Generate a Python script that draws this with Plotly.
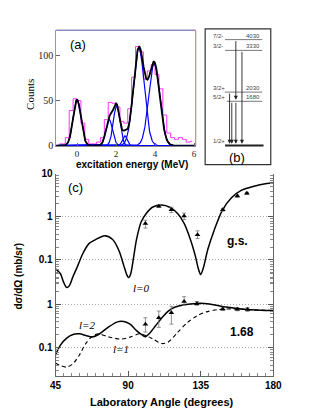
import numpy as np
import plotly.graph_objects as go

# page body has an 8px default margin: draw the figure 8px smaller and offset coordinates
OFF = 8
W, H = 314 - OFF, 419 - OFF
def fx(px): return (px - OFF) / W
def fy(py): return 1 - (py - OFF) / H

# ---------------- Panel (a): excitation energy spectrum ----------------
bin_centers = [-0.9, -0.7, -0.5, -0.3, -0.1, 0.1, 0.3, 0.5, 0.7, 0.9,
               1.1, 1.3, 1.5, 1.7, 1.9, 2.1, 2.3, 2.5, 2.7, 2.9,
               3.1, 3.3, 3.5, 3.7, 3.9, 4.1, 4.3, 4.5, 4.7, 4.9,
               5.1, 5.3, 5.5, 5.7, 5.9]
hist_counts = [2, 2, 9, 39, 52, 50, 25, 7, 2, 2,
               4, 9, 29, 48, 47, 43, 27, 25, 41, 76,
               110, 104, 74, 83, 90, 79, 63, 34, 14, 9,
               7, 9, 7, 4, 5]
peak_centroids = [0.0, 1.65, 2.03, 2.45, 3.17, 3.96]
peak_amplitudes = [51, 29, 44, 11, 108, 91]
peak_sigmas = [0.2, 0.17, 0.17, 0.12, 0.28, 0.28]

# ---------------- Panel (b): level scheme ----------------
level_spins = ["1/2+", "5/2+", "3/2+", "3/2-", "7/2-"]
level_energies = ["", "1680", "2030", "3330", "4030"]
level_plot_pos = [0, 1680, 2030, 3620, 4030]
# transitions: (from level index, to level index)
transitions = [(2, 0), (1, 0), (4, 1), (1, 0), (3, 0)]

# ---------------- Panel (c): angular distributions ----------------
gs_angle = [45, 48, 49.9, 51.9, 53.5, 55.8, 58.8, 61.7, 65.7, 70, 75.5, 80.4, 84.4,
            87.3, 89.3, 90.3, 91.6, 93.2, 95.2, 98.1, 101.1, 105, 110.9, 115.8,
            120.8, 124.7, 128.6, 131.6, 133.5, 134.9, 136.5, 139.4, 143.4, 148.3,
            154.2, 160.1, 168, 175.9, 180]
gs_xsec = [0.062, 0.048, 0.031, 0.0229, 0.025, 0.041, 0.074, 0.136, 0.24, 0.30, 0.366,
           0.30, 0.162, 0.074, 0.044, 0.039, 0.048, 0.104, 0.30, 0.77, 1.19, 1.68,
           1.9, 1.68, 1.19, 0.71, 0.30, 0.126, 0.063, 0.046, 0.063, 0.177, 0.50,
           1.41, 2.82, 4.13, 5.18, 5.95, 6.17]
gs_data_angle = [100.7, 109, 116.8, 124.7, 133, 148.7, 157.7, 163.6]
gs_data_xsec = [0.70, 1.77, 1.46, 1.05, 0.385, 1.46, 3.07, 3.54]
gs_data_errp = [0.14, 0.1, 0.22, 0.18, 0.09, 0.1, 0.2, 0.2]
gs_data_errm = [0.15, 0.1, 0.2, 0.18, 0.07, 0.1, 0.2, 0.2]

l2_angle = [45, 48, 51.9, 55.8, 59.8, 63.7, 67.6, 71.6, 77.5, 83.4, 87.3, 91.2, 95.2,
            99.1, 100.7, 103, 107, 110.9, 114.9, 118.8, 124.7, 132.6, 140.4, 148.3,
            160.1, 172, 180]
l2_xsec = [0.0685, 0.115, 0.167, 0.202, 0.209, 0.192, 0.176, 0.202, 0.295, 0.395, 0.40,
           0.35, 0.248, 0.192, 0.18, 0.21, 0.32, 0.49, 0.70, 0.855, 0.98, 1.05, 1.02,
           0.885, 0.785, 0.73, 0.72]
l1_angle = [45, 48, 51.9, 55.8, 59.8, 63.7, 67.6, 71.6, 77.5, 85.4, 91.2, 97.1, 101,
            105, 110.9, 114.9, 120.8, 126.7, 132.6, 138.5, 146.3, 156.2, 168, 180]
l1_xsec = [0.0447, 0.039, 0.036, 0.043, 0.0685, 0.125, 0.182, 0.21, 0.18, 0.158, 0.176,
           0.21, 0.19, 0.162, 0.125, 0.136, 0.228, 0.38, 0.54, 0.67, 0.76, 0.785,
           0.746, 0.72]
ex_data_angle = [100.7, 109, 116.8, 124.7, 132.6, 148.7, 157.7, 164]
ex_data_xsec = [0.35, 0.49, 0.64, 1.16, 1.03, 0.785, 0.77, 0.76]
ex_data_errp = [0.14, 0.21, 0.26, 0.34, 0.13, 0.07, 0.07, 0.08]
ex_data_errm = [0.12, 0.195, 0.29, 0.21, 0.08, 0.065, 0.06, 0.07]

SANS = "Liberation Sans"
SERIF = "Liberation Serif"

fig = go.Figure()

# ---- panel (a) traces
fig.add_trace(go.Scatter(x=bin_centers, y=hist_counts, mode="lines",
                         line=dict(color="#ff33ff", width=1, shape="hvh"),
                         xaxis="x", yaxis="y", showlegend=False, hoverinfo="skip"))
egrid = np.linspace(-1.07, 6.08, 500)
total = np.zeros_like(egrid)
for c, a, s in zip(peak_centroids, peak_amplitudes, peak_sigmas):
    g = a * np.exp(-0.5 * ((egrid - c) / s) ** 2)
    total += g
    fig.add_trace(go.Scatter(x=egrid, y=g, mode="lines",
                             line=dict(color="#0000ff", width=1.2),
                             xaxis="x", yaxis="y", showlegend=False, hoverinfo="skip"))
fig.add_trace(go.Scatter(x=egrid, y=total, mode="lines",
                         line=dict(color="black", width=1.8),
                         xaxis="x", yaxis="y", showlegend=False, hoverinfo="skip"))

# ---- panel (b) level scheme
bx0, bx1 = 0.304, 0.87
for i, (sp, en, pos) in enumerate(zip(level_spins, level_energies, level_plot_pos)):
    x0 = 0.33 if i in (1, 2) else bx0
    fig.add_trace(go.Scatter(x=[x0 - (0.03 if i == 2 else 0), bx1 + (0.02 if i == 0 else 0)],
                             y=[pos, pos], mode="lines",
                             line=dict(color="#222" if i == 0 else "#555", width=2 if i == 0 else 0.8),
                             xaxis="x2", yaxis="y2", showlegend=False, hoverinfo="skip"))
trans_x = [0.372, 0.406, 0.468, 0.468, 0.561]

# ---- panel (c) traces
fig.add_trace(go.Scatter(x=gs_angle, y=gs_xsec, mode="lines",
                         line=dict(color="black", width=1.5, shape="spline", smoothing=0.8),
                         xaxis="x3", yaxis="y3", showlegend=False))
fig.add_trace(go.Scatter(x=gs_data_angle, y=gs_data_xsec, mode="markers",
                         marker=dict(symbol="triangle-up", size=5, color="black"),
                         error_y=dict(type="data", array=gs_data_errp, arrayminus=gs_data_errm,
                                      color="#777", thickness=0.8, width=2),
                         xaxis="x3", yaxis="y3", showlegend=False))
fig.add_trace(go.Scatter(x=l1_angle, y=l1_xsec, mode="lines",
                         line=dict(color="black", width=1.1, dash="4px,3px", shape="spline", smoothing=0.8),
                         xaxis="x3", yaxis="y4", showlegend=False))
fig.add_trace(go.Scatter(x=l2_angle, y=l2_xsec, mode="lines",
                         line=dict(color="black", width=1.5, shape="spline", smoothing=0.8),
                         xaxis="x3", yaxis="y4", showlegend=False))
fig.add_trace(go.Scatter(x=ex_data_angle, y=ex_data_xsec, mode="markers",
                         marker=dict(symbol="triangle-up", size=5, color="black"),
                         error_y=dict(type="data", array=ex_data_errp, arrayminus=ex_data_errm,
                                      color="#777", thickness=0.8, width=2),
                         xaxis="x3", yaxis="y4", showlegend=False))

minor_log = [m * 10.0 ** e for e in range(-2, 1) for m in range(2, 10)]
bold_tick = dict(family=SANS, size=10, color="black", weight="bold")
GRID = dict(showgrid=True, gridcolor="#aaa", griddash="1px,2px", gridwidth=1)

layout = dict(
    width=W, height=H, margin=dict(l=0, r=0, t=0, b=0),
    paper_bgcolor="white", plot_bgcolor="rgba(0,0,0,0)", showlegend=False,
    xaxis=dict(domain=[fx(52.3), fx(199)], range=[-1.07, 6.08], anchor="y",
               tickvals=[0, 2, 4, 6], ticks="inside", ticklen=3, tickcolor="#666",
               showline=True, linecolor="#888", linewidth=1, showgrid=False, zeroline=False,
               ticklabelstandoff=0,
               tickfont=dict(family=SERIF, size=9, color="#222")),
    yaxis=dict(domain=[fy(143.3), fy(24.7)], range=[0, 128], anchor="x",
               tickvals=[0, 50, 100], ticks="inside", ticklen=4, tickcolor="#666",
               showline=True, linecolor="#999", linewidth=1, showgrid=False, zeroline=False,
               tickfont=dict(family=SERIF, size=10, color="#222")),
    xaxis2=dict(domain=[fx(209), fx(278)], range=[0, 1], anchor="y2", visible=False),
    yaxis2=dict(domain=[fy(162.7), fy(23.3)], range=[-730, 4439], anchor="x2", visible=False),
    xaxis3=dict(domain=[fx(51.7), fx(280.7)], range=[45, 180], anchor="y4",
                tickvals=[45, 90, 135, 180], ticks="inside", ticklen=5, tickcolor="#555",
                minor=dict(dtick=5, ticks="inside", ticklen=3, tickcolor="#888"),
                showline=True, linecolor="#666", linewidth=1, showgrid=False, zeroline=False,
                tickfont=bold_tick),
    xaxis4=dict(matches="x3", range=[45, 180], anchor="y3", side="top", overlaying="x3",
                tickvals=[45, 90, 135, 180], ticks="inside", ticklen=5, tickcolor="#555",
                minor=dict(dtick=5, ticks="inside", ticklen=3, tickcolor="#888"),
                showline=True, linecolor="#666", linewidth=1, showgrid=False, zeroline=False,
                showticklabels=False),
    yaxis3=dict(domain=[fy(291.7), fy(172.3)], type="log", range=[-1.7, 1], anchor="x3",
                tickvals=[0.1, 1, 10], ticktext=["0.1", "1", "10"],
                ticks="inside", ticklen=5, tickcolor="#555", mirror="ticks",
                minor=dict(tickvals=minor_log, ticks="inside", ticklen=3, tickcolor="#888", showgrid=False),
                showline=True, linecolor="#666", linewidth=1, zeroline=False,
                tickfont=bold_tick, **GRID),
    yaxis4=dict(domain=[fy(380), fy(271)], type="log", range=[-1.65, 0.79], anchor="x3",
                tickvals=[0.1, 1], ticktext=["0.1", "1"],
                ticks="inside", ticklen=5, tickcolor="#555", mirror="ticks",
                minor=dict(tickvals=minor_log, ticks="inside", ticklen=3, tickcolor="#888", showgrid=False),
                showline=True, linecolor="#666", linewidth=1, zeroline=False,
                tickfont=bold_tick, **GRID),
)
fig.update_layout(**layout)

shapes = [
    # panel (a) coloured top / right frame
    dict(type="line", xref="x domain", yref="y domain", x0=0, x1=1, y0=1, y1=1,
         line=dict(color="#8c8cbc", width=1.3)),
    dict(type="line", xref="x domain", yref="y domain", x0=1, x1=1, y0=0, y1=1,
         line=dict(color="#c89090", width=1.3)),
    # panel (b) box
    dict(type="rect", xref="x2 domain", yref="y2 domain", x0=0, x1=1, y0=0, y1=1,
         line=dict(color="#333", width=1.2)),
]
fig.update_layout(shapes=shapes)

ann = []
def text(px, py, s, size, family=SANS, bold=False, angle=0, color="black", xanchor="center", italic=False):
    ann.append(dict(x=fx(px), y=fy(py), xref="paper", yref="paper", text=s, showarrow=False,
                    xanchor=xanchor, yanchor="middle", textangle=angle,
                    font=dict(family=family, size=size, color=color,
                              weight="bold" if bold else "normal",
                              style="italic" if italic else "normal")))

text(75, 39, "(a)", 13)
text(25, 91, "Counts", 11, family=SERIF, angle=-90)
text(132.5, 163, "excitation energy (MeV)", 10, bold=True)
text(243, 155, "(b)", 13)
text(73, 186, "(c)", 13)
text(243, 241, "g.s.", 12, bold=True)
text(248, 335, "1.68", 12, bold=True)
text(142, 290, "l=0", 11, family=SERIF, italic=True)
text(85, 328, "l=2", 11, family=SERIF, italic=True)
text(120, 352, "l=1", 11, family=SERIF, italic=True)
text(13, 277, "dσ/dΩ (mb/sr)", 10, bold=True, angle=-90)
text(163.3, 407, "Laboratory Angle (degrees)", 11, bold=True)

# level labels
for sp, en, pos in zip(level_spins, level_energies, level_plot_pos):
    ann.append(dict(x=0.09, y=pos, xref="x2", yref="y2", text=sp, showarrow=False,
                    xanchor="left", yanchor="bottom", yshift=-1,
                    font=dict(family=SANS, size=6, color="#444")))
    if en:
        ann.append(dict(x=bx1, y=pos, xref="x2", yref="y2", text=en, showarrow=False,
                        xanchor="right", yanchor="bottom", yshift=-1,
                        font=dict(family=SANS, size=6, color="#444")))
# transition arrows
for (fi, ti), xx in zip(transitions, trans_x):
    ann.append(dict(x=xx, y=level_plot_pos[ti] + 60, ax=xx, ay=level_plot_pos[fi],
                    xref="x2", yref="y2", axref="x2", ayref="y2", text="",
                    showarrow=True, arrowhead=2, arrowsize=0.9, arrowwidth=0.9,
                    arrowcolor="#222", standoff=0, startstandoff=0))
fig.update_layout(annotations=ann)

fig.write_html("out.html")
